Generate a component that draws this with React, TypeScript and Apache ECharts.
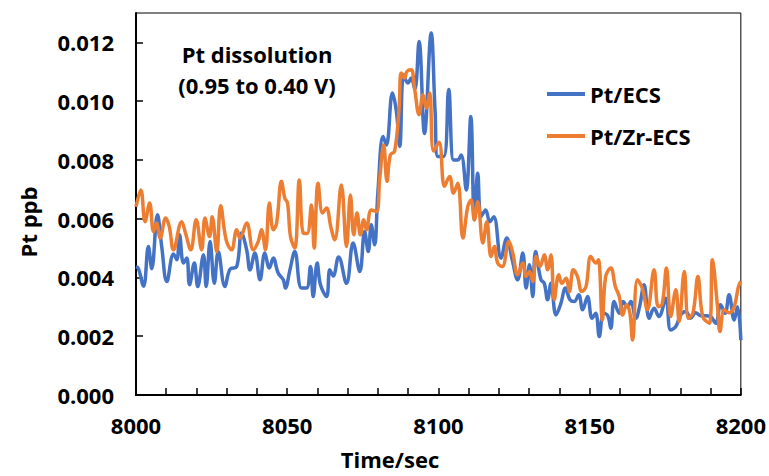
import React, { useEffect, useRef } from "react";
import * as echarts from "echarts";

const seriesNames = ["Pt/ECS", "Pt/Zr-ECS"];
const seriesColors = ["#4472C4", "#ED7D31"];
const annotationLines = ["Pt dissolution", "(0.95 to 0.40 V)"];
const xTitle = "Time/sec";
const yTitle = "Pt ppb";

// [time (s), Pt (ppb)]
const ptEcs: [number, number][] = [
  [8000, 0.00437], [8000.8, 0.0043], [8002.5, 0.0037], [8004.1, 0.00505], [8005.2, 0.0043],
  [8007.1, 0.00613], [8008.5, 0.00505], [8010.2, 0.00386], [8012.4, 0.0048], [8013.5, 0.0046],
  [8014.4, 0.00545], [8015.7, 0.00449], [8016.8, 0.00466], [8017.7, 0.00375], [8019.3, 0.00449],
  [8020.4, 0.00369], [8022.3, 0.00477], [8023.2, 0.00369], [8024.5, 0.00522], [8025.9, 0.0038],
  [8027.2, 0.00488], [8029.4, 0.00369], [8031.1, 0.00428], [8033.3, 0.00437], [8034.9, 0.00551],
  [8036.6, 0.00494], [8037.7, 0.00426], [8039.3, 0.00483], [8041, 0.00392], [8042.6, 0.00483],
  [8044.1, 0.00432], [8045.4, 0.00466], [8047, 0.00415], [8048.7, 0.00392], [8049.4, 0.00364],
  [8050.9, 0.00426], [8052.5, 0.00488], [8054.7, 0.00364], [8056.4, 0.00364], [8057.7, 0.00437],
  [8058.6, 0.00335], [8059.9, 0.00449], [8061, 0.00375], [8063, 0.00335], [8064.1, 0.00426],
  [8065.2, 0.00405], [8067, 0.0047], [8069.6, 0.0038], [8071.8, 0.00517], [8074, 0.0042],
  [8075.6, 0.00556], [8076.8, 0.00488], [8077.8, 0.00579], [8078.9, 0.00511], [8080, 0.00692],
  [8081.7, 0.0088], [8082.8, 0.00851], [8084.8, 0.01028], [8086.1, 0.00965], [8087.2, 0.00846],
  [8088.5, 0.0109], [8089.9, 0.01062], [8091, 0.01079], [8092.2, 0.0104], [8093.6, 0.01203],
  [8095.4, 0.0089], [8097.6, 0.01232], [8098.9, 0.00965], [8099.8, 0.00812], [8101.8, 0.00812],
  [8103.4, 0.0104], [8105, 0.008], [8106.4, 0.008], [8107.5, 0.00817], [8109.2, 0.00698],
  [8110.7, 0.00948], [8111.9, 0.00596], [8113, 0.00755], [8114.1, 0.00607], [8115.6, 0.0063],
  [8117, 0.0059], [8118.3, 0.00607], [8120.7, 0.00466], [8122.6, 0.00534], [8124.4, 0.0046],
  [8126.2, 0.00392], [8127.9, 0.00483], [8129, 0.00364], [8130.1, 0.00443], [8131.2, 0.00335],
  [8132.1, 0.00488], [8133.9, 0.00392], [8135, 0.0038], [8136.1, 0.00324], [8137.2, 0.0038],
  [8138.9, 0.00272], [8140.5, 0.00312], [8142, 0.00364], [8143.5, 0.00324], [8144.9, 0.00318],
  [8146.4, 0.00341], [8147.7, 0.0029], [8149.3, 0.00335], [8150.8, 0.00261], [8152, 0.00278],
  [8153.2, 0.00199], [8154.6, 0.00278], [8156, 0.0027], [8157, 0.00227], [8158.1, 0.00318],
  [8159.8, 0.00278], [8161.1, 0.00318], [8162.5, 0.003], [8163.6, 0.00318], [8165.3, 0.00261],
  [8166.5, 0.003], [8168, 0.00375], [8169.7, 0.00261], [8171.3, 0.00295], [8172.9, 0.00267],
  [8175.2, 0.00329], [8176.8, 0.00221], [8178.5, 0.00233], [8180.1, 0.00272], [8181.8, 0.00284],
  [8183.4, 0.00261], [8185.1, 0.0028], [8186.7, 0.0027], [8188.4, 0.0027], [8190, 0.00267],
  [8191.7, 0.00244], [8193.3, 0.00307], [8194.8, 0.00278], [8196.1, 0.00341], [8197.8, 0.00255],
  [8198.9, 0.003], [8200, 0.00187],
];

const ptZrEcs: [number, number][] = [
  [8000, 0.0064], [8001.6, 0.00698], [8003, 0.0059], [8004.5, 0.00653], [8005.8, 0.00556],
  [8006.8, 0.00585], [8008, 0.00534], [8009.8, 0.00602], [8011, 0.00573], [8012.4, 0.00494],
  [8015.1, 0.0059], [8016.4, 0.0055], [8018.1, 0.00494], [8019.9, 0.00596], [8021.7, 0.00494],
  [8022.8, 0.00602], [8024.3, 0.00539], [8025.2, 0.00607], [8026.7, 0.00488], [8028, 0.00644],
  [8029.8, 0.00528], [8031.6, 0.00494], [8033.3, 0.00562], [8034.4, 0.00534], [8036.6, 0.00585],
  [8038.8, 0.00494], [8040.4, 0.00522], [8041.5, 0.00562], [8042.8, 0.00494], [8044.1, 0.00653],
  [8045.4, 0.00562], [8046.5, 0.00585], [8048.1, 0.00727], [8049.2, 0.0067], [8050.1, 0.00653],
  [8051.1, 0.00539], [8052.5, 0.005], [8054, 0.00732], [8055.3, 0.00551], [8056.6, 0.0055],
  [8058, 0.00647], [8058.9, 0.005], [8060.2, 0.00721], [8061.7, 0.00619], [8063, 0.00636],
  [8064.4, 0.00573], [8065.7, 0.00528], [8067.9, 0.00715], [8069.6, 0.00505], [8070.9, 0.00681],
  [8072, 0.00545], [8073.1, 0.00619], [8074.2, 0.00545], [8075.3, 0.00596], [8076.2, 0.00562],
  [8077.8, 0.0063], [8079.5, 0.00624], [8080.6, 0.00738], [8081.9, 0.00851], [8083, 0.00727],
  [8084.1, 0.00817], [8085.5, 0.00829], [8087, 0.00976], [8087.7, 0.01096], [8088.8, 0.01079],
  [8089.6, 0.01101], [8091, 0.01107], [8092.1, 0.01045], [8093.6, 0.00954], [8094.9, 0.01022],
  [8096, 0.00976], [8097.1, 0.01028], [8098.4, 0.0083], [8100.2, 0.0086], [8102, 0.0071],
  [8103.7, 0.00744], [8105, 0.00687], [8106.4, 0.00721], [8108.1, 0.00534], [8109.7, 0.00641],
  [8110.8, 0.00664], [8111.9, 0.00596], [8113, 0.00658], [8114.7, 0.00517], [8116, 0.0059],
  [8117.4, 0.00471], [8118.5, 0.00505], [8119.6, 0.00449], [8121.1, 0.00437], [8123.3, 0.00522],
  [8124.6, 0.00483], [8126.2, 0.00409], [8127.9, 0.00449], [8129, 0.00403], [8130.1, 0.0042],
  [8131.2, 0.00386], [8132.3, 0.00471], [8133.6, 0.00437], [8135, 0.00477], [8136.1, 0.00426],
  [8137.2, 0.00477], [8138.3, 0.00324], [8139.8, 0.00409], [8140.8, 0.0038], [8142.2, 0.00397],
  [8143.3, 0.00352], [8144.6, 0.00426], [8146, 0.00403], [8147.4, 0.00352], [8148.8, 0.00369],
  [8150.4, 0.00471], [8152.1, 0.00449], [8152.9, 0.0046], [8154.2, 0.00255], [8155.3, 0.00403],
  [8157, 0.00432], [8158.5, 0.00369], [8159.8, 0.00335], [8160.9, 0.00272], [8162.2, 0.00307],
  [8163.3, 0.0028], [8164.2, 0.00187], [8165.8, 0.00392], [8167.4, 0.00364], [8169.1, 0.0029],
  [8171.3, 0.00426], [8172.7, 0.003], [8174, 0.0031], [8175.4, 0.00432], [8176.8, 0.00267],
  [8178.5, 0.00358], [8179.6, 0.0025], [8181.3, 0.0042], [8182.7, 0.00261], [8184.2, 0.0028],
  [8185.8, 0.00403], [8187.4, 0.00267], [8189.6, 0.00244], [8190.6, 0.0046], [8192.3, 0.003],
  [8193.1, 0.00216], [8194.5, 0.0029], [8196.1, 0.0028], [8197.8, 0.003], [8199.2, 0.00369],
  [8200, 0.00386],
];

const FONT = '"Open Sans", "Liberation Sans", sans-serif';

export default function App() {
  const ref = useRef<HTMLDivElement>(null);
  useEffect(() => {
    document.body.style.margin = "0";
    if (!ref.current) return;
    const chart = echarts.init(ref.current, undefined, { renderer: "svg" });
    const txt = { fontFamily: FONT, fontWeight: "bold" as const, fontSize: 22, color: "#000" };
    const font = `bold 22px ${FONT}`;
    chart.setOption({
      animation: false,
      backgroundColor: "#fff",
      grid: { left: 136, right: 28, top: 13, bottom: 81, show: true, borderColor: "#000", borderWidth: 1 },
      legend: {
        orient: "vertical",
        left: 547,
        top: 81,
        icon: "rect",
        itemWidth: 38,
        itemHeight: 4,
        itemGap: 16,
        padding: 0,
        textStyle: { ...txt, lineHeight: 26 },
        data: seriesNames,
      },
      xAxis: {
        type: "value",
        min: 8000,
        max: 8200,
        interval: 50,
        axisLine: { lineStyle: { color: "#000", width: 2 } },
        axisTick: { inside: true, length: 7, lineStyle: { color: "#000", width: 1.5 } },
        minorTick: { show: true, splitNumber: 5, length: 7, lineStyle: { color: "#000", width: 1.5 } },
        splitLine: { show: false },
        axisLabel: { ...txt, margin: 19, formatter: (v: number) => String(v) },
      },
      yAxis: {
        type: "value",
        min: 0,
        max: 0.013,
        interval: 0.002,
        axisLine: { show: true, lineStyle: { color: "#000", width: 2 } },
        axisTick: { show: true, inside: true, length: 7, lineStyle: { color: "#000", width: 1.5 } },
        splitLine: { show: false },
        axisLabel: {
          ...txt,
          margin: 22,
          showMaxLabel: false,
          formatter: (v: number) => v.toFixed(3),
        },
      },
      graphic: [
        {
          type: "text",
          x: 257,
          y: 54,
          style: { text: annotationLines[0], font, fill: "#000", align: "center", verticalAlign: "middle" },
        },
        {
          type: "text",
          x: 257,
          y: 85,
          style: { text: annotationLines[1], font, fill: "#000", align: "center", verticalAlign: "middle" },
        },
        {
          type: "text",
          x: 390,
          y: 459,
          style: { text: xTitle, font, fill: "#000", align: "center", verticalAlign: "middle" },
        },
        {
          type: "text",
          x: 28,
          y: 222,
          rotation: Math.PI / 2,
          style: { text: yTitle, font, fill: "#000", align: "center", verticalAlign: "middle" },
        },
      ],
      series: [
        {
          name: seriesNames[0],
          type: "line",
          data: ptEcs,
          smooth: 0.4,
          showSymbol: false,
          lineStyle: { color: seriesColors[0], width: 3.5 },
          itemStyle: { color: seriesColors[0] },
        },
        {
          name: seriesNames[1],
          type: "line",
          data: ptZrEcs,
          smooth: 0.4,
          showSymbol: false,
          lineStyle: { color: seriesColors[1], width: 3.5 },
          itemStyle: { color: seriesColors[1] },
        },
      ],
    });
    return () => chart.dispose();
  }, []);
  return <div ref={ref} style={{ width: 769, height: 476 }} />;
}
